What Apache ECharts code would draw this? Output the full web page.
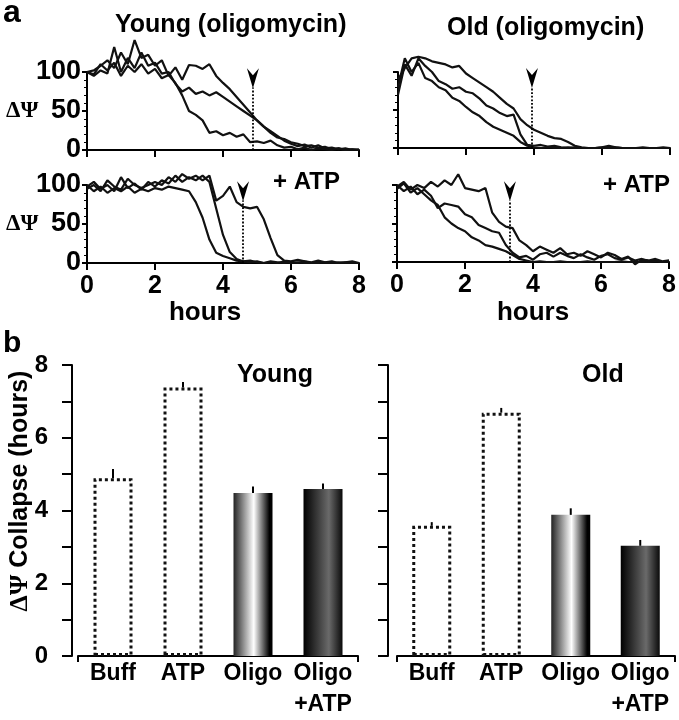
<!DOCTYPE html>
<html><head><meta charset="utf-8">
<script src="https://cdn.jsdelivr.net/npm/echarts@6/dist/echarts.min.js"></script>
<style>html,body{margin:0;padding:0;background:#fff}#c{width:679px;height:720px}</style>
</head><body><div id="c"></div>
<script>
// ---- data ----
const hours = [0,0.2,0.4,0.6,0.8,1,1.2,1.4,1.6,1.8,2,2.2,2.4,2.6,2.8,3,3.2,3.4,3.6,3.8,4,4.2,4.4,4.6,4.8,5,5.2,5.4,5.6,5.8,6,6.2,6.4,6.6,6.8,7,7.2,7.4,7.6,7.8,8];
const xTicks = [0,2,4,6,8];
// Young (oligomycin)
const youngOligoA = [100,97,110,102,112,95,108,100,110,98,104,92,96,86,70,50,45,38,22,24,19,22,17,20,10,11,9,12,6,3,4,1,3,0,2,1,0,2,0,1,0];
const youngOligoB = [100,95,102,98,132,100,118,105,125,108,112,98,100,85,75,80,72,75,70,74,68,62,56,50,44,38,30,24,18,12,8,5,7,3,6,2,3,1,2,0,1];
const youngOligoC = [100,102,108,115,105,125,110,141,118,122,108,115,95,106,90,109,108,104,110,95,86,78,68,58,48,38,30,22,16,14,10,8,5,6,3,4,1,2,0,1,0];
// Old (oligomycin)
const oldOligoA = [80,118,100,112,92,88,80,76,66,62,54,47,42,34,28,24,20,16,8,3,1,0,1,0,0,1,0,0,0,0,1,0,0,0,0,0,1,0,0,0,0];
const oldOligoB = [70,110,95,118,108,100,88,84,78,80,74,72,65,56,52,46,42,44,18,4,3,4,2,3,1,0,1,0,0,0,0,0,1,0,0,0,0,0,0,1,0];
const oldOligoC = [90,105,118,120,118,114,112,110,106,108,98,92,86,80,74,66,58,52,38,30,24,20,16,13,12,8,3,1,0,0,1,3,1,0,0,0,0,0,0,0,0];
// Young + ATP
const youngAtpA = [100,92,98,90,96,92,98,90,95,92,96,94,98,96,94,92,78,58,30,13,9,6,3,2,1,2,0,1,0,2,0,1,0,0,1,0,0,1,0,0,0];
const youngAtpB = [98,104,95,100,92,110,96,102,94,104,98,106,102,112,104,110,106,112,104,70,36,14,5,2,3,1,0,2,1,0,1,0,2,0,0,1,0,0,1,0,0];
const youngAtpC = [95,100,92,106,98,94,108,100,96,100,104,100,110,104,114,108,112,106,112,80,86,98,78,72,70,72,56,32,10,3,2,4,2,1,3,1,2,0,1,2,0];
// Old + ATP
const oldAtpA = [95,102,90,96,88,80,74,58,50,44,40,32,28,22,20,17,14,9,4,2,0,1,0,0,1,0,0,0,1,0,0,0,0,1,0,0,0,0,1,0,0];
const oldAtpB = [100,92,98,88,94,86,70,76,74,72,62,58,48,44,40,38,22,12,6,8,3,10,12,7,12,8,5,10,6,3,8,10,5,3,6,2,4,1,3,0,1];
const oldAtpC = [98,104,94,100,96,104,98,106,100,114,96,94,92,96,64,52,46,44,28,22,14,20,16,12,18,10,12,8,14,10,6,12,9,4,7,-3,3,2,4,1,2];
// collapse-time arrows (hours)
const arrowHours = [4.88, 3.94, 4.59, 3.32];

// panel b
const barCats = ['Buff','ATP','Oligo','Oligo\n+ATP'];
const youngCollapse = [4.89, 7.38, 4.48, 4.59];
const youngErr = [0.25, 0.15, 0.18, 0.15];
const oldCollapse = [3.58, 6.69, 3.88, 3.03];
const oldErr = [0.1, 0.13, 0.18, 0.16];
const barTicks = [0,1,2,3,4,5,6,7,8];

// ---- chart ----
const FONT = '"Liberation Sans", Arial, Helvetica, sans-serif';
const chart = echarts.init(document.getElementById('c'), null, {renderer:'canvas', width:679, height:720});

const lineGrids = [
  {left:87, top:72, width:272, height:78},
  {left:398, top:72, width:272, height:76},
  {left:87, top:185, width:272, height:78},
  {left:397, top:185, width:273, height:77}
];
const panelTraces = [
  [youngOligoA, youngOligoB, youngOligoC],
  [oldOligoA, oldOligoB, oldOligoC],
  [youngAtpA, youngAtpB, youngAtpC],
  [oldAtpA, oldAtpB, oldAtpC]
];
const showX = [false,false,true,true];
const showY = [true,false,true,false];

const grids = lineGrids.concat([
  {left:78, top:365, width:280, height:293},
  {left:397, top:365, width:278, height:293}
]);

const xAxes = [], yAxes = [], series = [];
lineGrids.forEach((g, i) => {
  xAxes.push({
    gridIndex:i, type:'value', min:xTicks[0], max:xTicks[xTicks.length-1], interval:2,
    axisLine:{show:true, onZero:false, lineStyle:{color:'#000', width:2}},
    axisTick:{show:true, length:7, lineStyle:{color:'#000', width:2}},
    axisLabel:{show:showX[i], color:'#000', fontFamily:FONT, fontWeight:'bold', fontSize:25, margin:11},
    splitLine:{show:false}
  });
  yAxes.push({
    gridIndex:i, type:'value', min:0, max:100, interval:50,
    axisLine:{show:true, onZero:false, lineStyle:{color:'#000', width:2}},
    axisTick:{show:true, length:5, lineStyle:{color:'#000', width:2}},
    minorTick:{show:true, splitNumber:5, length:3, lineStyle:{color:'#000', width:1}},
    axisLabel:{show:showY[i], color:'#000', fontFamily:FONT, fontWeight:'bold', fontSize:27, margin:6},
    splitLine:{show:false}
  });
  panelTraces[i].forEach((tr, k) => {
    const s = {
      type:'line', xAxisIndex:i, yAxisIndex:i, clip:false, showSymbol:false, symbol:'none',
      lineStyle:{color:'#111', width:2.2}, silent:true, animation:false,
      data: hours.map((h, j) => [h, tr[j]])
    };
    if (k === 0) {
      const h = arrowHours[i];
      s.markLine = {
        silent:true, symbol:['none','none'], label:{show:false},
        lineStyle:{type:'dotted', color:'#000', width:1.8},
        data:[[{coord:[h, 0]}, {coord:[h, 80]}]]
      };
      s.markPoint = {
        silent:true, symbol:'path://M0,0L6,7L12,0L6,20Z', symbolSize:[12,20],
        itemStyle:{color:'#000'}, label:{show:false},
        data:[{coord:[h, 92]}]
      };
    }
    series.push(s);
  });
});

// bar panels
const dotted = {color:'#fff', borderColor:'#111', borderWidth:3, borderType:'dotted'};
const gradOligo = {color:new echarts.graphic.LinearGradient(0,0,1,0,[
  {offset:0, color:'#222'},{offset:0.52, color:'#fff'},{offset:0.92, color:'#000'},{offset:1, color:'#000'}])};
const gradOligoAtp = {color:new echarts.graphic.LinearGradient(0,0,1,0,[
  {offset:0, color:'#000'},{offset:0.65, color:'#6a6a6a'},{offset:1, color:'#0a0a0a'}])};
const barStyles = [dotted, dotted, gradOligo, gradOligoAtp];

[[youngCollapse, youngErr, 6, true], [oldCollapse, oldErr, 9, false]].forEach((p, b) => {
  const gi = 4 + b;
  xAxes.push({
    gridIndex:gi, type:'category', data:barCats, offset:2,
    axisLine:{show:true, lineStyle:{color:'#000', width:2}},
    axisTick:{show:true, interval:(idx) => idx === 0, length:6, lineStyle:{color:'#000', width:2}},
    axisLabel:{interval:0, color:'#000', fontFamily:FONT, fontWeight:'bold', fontSize:23, lineHeight:31, margin:0},
    splitLine:{show:false}
  });
  yAxes.push({
    gridIndex:gi, type:'value', min:barTicks[0], max:barTicks[barTicks.length-1], interval:1, offset:p[2],
    axisLine:{show:true, lineStyle:{color:'#000', width:2}},
    axisTick:{show:true, length:10, lineStyle:{color:'#000', width:2}},
    axisLabel:{show:p[3], color:'#000', fontFamily:FONT, fontWeight:'bold', fontSize:24, margin:24,
      formatter:(v) => (v % 2 === 0 ? String(v) : '')},
    splitLine:{show:false}
  });
  series.push({
    type:'bar', xAxisIndex:gi, yAxisIndex:gi, barWidth:39, animation:false, silent:true,
    data:p[0].map((v, i) => ({value:v, itemStyle:barStyles[i]}))
  });
  series.push({
    type:'custom', xAxisIndex:gi, yAxisIndex:gi, z:10, animation:false, silent:true,
    data:p[0].map((v, i) => [i, v, p[1][i]]),
    renderItem:(params, api) => {
      const a = api.coord([api.value(0), api.value(1)]);
      const c = api.coord([api.value(0), api.value(1) + api.value(2)]);
      return {type:'line', shape:{x1:a[0], y1:a[1], x2:c[0], y2:c[1]}, style:{stroke:'#000', lineWidth:2}};
    }
  });
});

function txt(text, x, y, font, align) {
  return {type:'text', x:x, y:y, silent:true,
    style:{text:text, font:font, fill:'#000', align:align||'left', textAlign:align||'left',
      verticalAlign:'middle', textVerticalAlign:'middle'}};
}
const B = (s) => 'bold ' + s + 'px ' + FONT;
const SERIF = 'bold 23px "Liberation Serif", "Times New Roman", serif';

const graphics = [
  txt('a', 3, 13, B(32)),
  txt('Young (oligomycin)', 115, 25, B(25)),
  txt('Old (oligomycin)', 447, 28, B(25)),
  txt('ΔΨ', 6, 111, SERIF),
  txt('ΔΨ', 6, 224, SERIF),
  txt('+ ATP', 273, 182, B(24)),
  txt('+ ATP', 603, 185, B(24)),
  txt('hours', 205, 313, B(26), 'center'),
  txt('hours', 533, 313, B(26), 'center'),
  txt('b', 3, 344, B(30)),
  txt('Young', 237, 375, B(25)),
  txt('Old', 582, 375, B(25)),
  {type:'text', x:20, y:491, rotation:Math.PI/2, silent:true,
   style:{text:'{g|ΔΨ} Collapse (hours)', font:B(25), fill:'#000', align:'center', textAlign:'center',
     verticalAlign:'middle', textVerticalAlign:'middle',
     rich:{g:{font:'bold 26px "Liberation Serif", "Times New Roman", serif', fill:'#000'}}}}
];

chart.setOption({
  animation:false,
  grid:grids,
  xAxis:xAxes,
  yAxis:yAxes,
  series:series,
  graphic:graphics
});
</script></body></html>
